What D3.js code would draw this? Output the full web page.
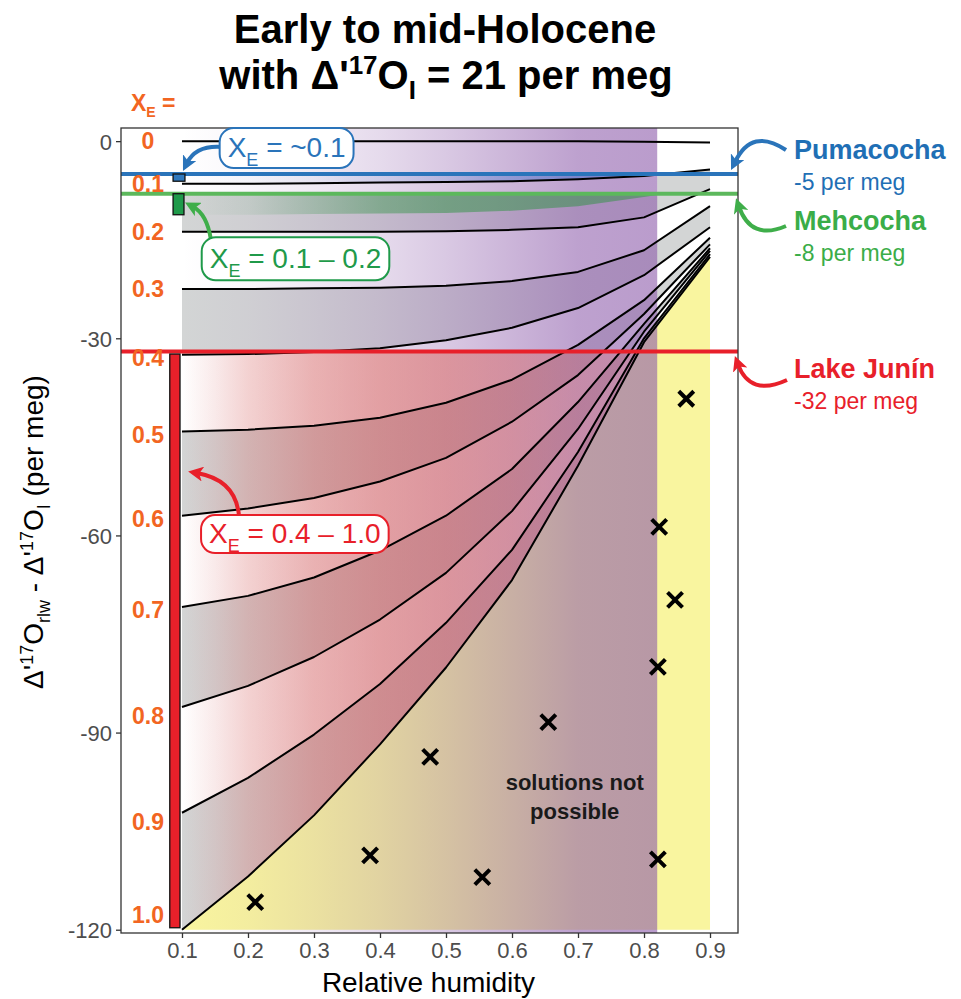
<!DOCTYPE html>
<html>
<head>
<meta charset="utf-8">
<script src="https://cdn.jsdelivr.net/npm/d3@7"></script>
<style>
  body { margin: 0; background: #fff; }
  svg { font-family: "Liberation Sans", Arial, Helvetica, sans-serif; }
</style>
</head>
<body>
<svg id="chart" width="961" height="999"></svg>
<script>
// ---- data -------------------------------------------------------------
// relative humidity steps at which the model curves were evaluated
const rh = [0.1, 0.2, 0.3, 0.4, 0.5, 0.6, 0.7, 0.8, 0.9];

// Δ'17O_rlw − Δ'17O_I (per meg) for each evaporation/inflow ratio X_E
const xe00 = [0, 0, 0, 0, 0, 0, 0, -0.1, -0.2];
const xe01 = [-6.5, -6.5, -6.4, -6.3, -6.2, -6.1, -5.8, -5.3, -4.3];
const xe02 = [-13.8, -13.8, -13.8, -13.8, -13.7, -13.5, -13.1, -11.6, -7.3];
const xe03 = [-22.5, -22.5, -22.4, -22.3, -22.0, -21.3, -19.9, -16.6, -9.9];
const xe04 = [-32.5, -32.4, -32.1, -31.5, -30.3, -28.4, -25.4, -20.4, -13.1];
const xe05 = [-44.2, -43.9, -43.3, -42.1, -39.8, -36.3, -31.0, -24.2, -14.7];
const xe06 = [-57.0, -55.9, -54.3, -51.8, -48.2, -42.7, -35.6, -26.3, -15.7];
const xe07 = [-70.9, -69.2, -66.4, -62.3, -57.0, -49.9, -39.7, -27.8, -16.3];
const xe08 = [-86.1, -82.9, -78.5, -72.8, -65.7, -56.3, -43.8, -29.0, -16.7];
const xe09 = [-102.2, -96.9, -90.3, -82.6, -73.3, -62.2, -47.3, -30.0, -17.2];
const xe10 = [-120.0, -111.9, -102.6, -91.8, -80.1, -66.8, -49.4, -30.6, -17.6];
const xeLabels = ["0", "0.1", "0.2", "0.3", "0.4", "0.5", "0.6", "0.7", "0.8", "0.9", "1.0"];

// lakes and their measured offsets (per meg)
const lakeNames = ["Pumacocha", "Mehcocha", "Lake Junín"];
const lakeValues = [-5, -8, -32];
const lakeTexts = ["-5 per meg", "-8 per meg", "-32 per meg"];

// lower edge of the Mehcocha solution band
const mehRH = [0.1, 0.2, 0.3, 0.4, 0.5, 0.6, 0.7, 0.8, 0.82];
const mehLow = [-11.2, -11.2, -11.1, -11.0, -10.95, -10.6, -9.9, -8.5, -8.2];

// X_E solution ranges (Δ extent of the bars next to the axis)
const pumaRange = [-5, -6.1];
const mehRange = [-8, -11.2];
const juninRange = [-32.4, -119.7];

// plausible RH window
const rhWindow = [0.1, 0.82];

// combinations with no solution
const noSolRH = [0.864, 0.823, 0.847, 0.821, 0.655, 0.476, 0.385, 0.555, 0.821, 0.211];
const noSolD = [-39.2, -58.7, -69.8, -80.0, -88.4, -93.7, -108.7, -112.0, -109.3, -115.8];

const yTicks = [0, -30, -60, -90, -120];
const xTicks = rh;

// ---- scales -----------------------------------------------------------
const P = { l: 121, r: 738, t: 128, b: 933 };
const x = d3.scaleLinear().domain([0.0076, 0.9424]).range([P.l, P.r]);
const y = d3.scaleLinear().domain([-120.5, 2]).range([P.b, P.t]);

const curves = [xe00, xe01, xe02, xe03, xe04, xe05, xe06, xe07, xe08, xe09, xe10];
const interp = (arr, r) => {
  const i = Math.min(rh.length - 2, Math.max(0, Math.floor((r - 0.1) / 0.1 + 1e-9)));
  const t = (r - rh[i]) / (rh[i + 1] - rh[i]);
  return arr[i] + t * (arr[i + 1] - arr[i]);
};

const svg = d3.select("#chart");
const defs = svg.append("defs");

defs.append("clipPath").attr("id", "panel")
  .append("rect").attr("x", P.l).attr("y", P.t).attr("width", P.r - P.l).attr("height", P.b - P.t);

function hGrad(id, color, stops) {
  const g = defs.append("linearGradient").attr("id", id)
    .attr("gradientUnits", "userSpaceOnUse")
    .attr("x1", x(rhWindow[0])).attr("x2", x(rhWindow[1]))
    .attr("y1", 0).attr("y2", 0);
  stops.forEach(([r, a]) => g.append("stop")
    .attr("offset", (r - rhWindow[0]) / (rhWindow[1] - rhWindow[0]))
    .attr("stop-color", color).attr("stop-opacity", a));
}
hGrad("gPurple", "rgb(140,90,170)", [[0.1, 0], [0.2, 0.05], [0.3, 0.13], [0.4, 0.22], [0.5, 0.33], [0.6, 0.45], [0.7, 0.57], [0.82, 0.6]]);
hGrad("gRed", "rgb(222,78,62)", [[0.1, 0], [0.15, 0.1], [0.2, 0.22], [0.3, 0.36], [0.4, 0.42], [0.5, 0.42], [0.6, 0.36], [0.7, 0.26], [0.82, 0.2]]);
hGrad("gGreen", "rgb(45,145,65)", [[0.1, 0], [0.2, 0.08], [0.3, 0.25], [0.4, 0.42], [0.5, 0.5], [0.82, 0.5]]);
hGrad("gBlue", "rgb(40,100,200)", [[0.1, 0], [0.3, 0.05], [0.5, 0.2], [0.6, 0.35], [0.7, 0.45], [0.82, 0.45]]);

defs.append("clipPath").attr("id", "belowJunin")
  .append("rect").attr("x", x(rhWindow[0])).attr("y", y(lakeValues[2]))
  .attr("width", x(rhWindow[1]) - x(rhWindow[0])).attr("height", P.b - y(lakeValues[2]));
defs.append("clipPath").attr("id", "window")
  .append("rect").attr("x", x(rhWindow[0])).attr("y", P.t)
  .attr("width", x(rhWindow[1]) - x(rhWindow[0])).attr("height", P.b - P.t);

function arrowMarker(id, color) {
  defs.append("marker").attr("id", id)
    .attr("viewBox", "0 0 10 10").attr("refX", 4).attr("refY", 5)
    .attr("markerWidth", 15).attr("markerHeight", 15)
    .attr("markerUnits", "userSpaceOnUse").attr("orient", "auto")
    .append("path").attr("d", "M0,0 L10,5 L0,10 L2.5,5 z").attr("fill", color);
}
const cBlue = "#2a74ba", cGreen = "#3fae4a", cRed = "#e8202a", cOrange = "#f26522";
arrowMarker("aBlue", cBlue);
arrowMarker("aGreen", cGreen);
arrowMarker("aRed", cRed);

const plot = svg.append("g").attr("clip-path", "url(#panel)");

const areaBetween = (upper, lower) => d3.area()
  .x((d, i) => x(rh[i])).y0((d, i) => y(lower[i])).y1((d, i) => y(upper[i]))(rh);

// alternating grey bands between successive X_E curves
const grey = "#d3d5d5";
[[1, 2], [3, 4], [5, 6], [7, 8], [9, 10]].forEach(([a, b]) => {
  plot.append("path").attr("d", areaBetween(curves[a], curves[b])).attr("fill", grey);
});
// region with no possible solution
plot.append("path").attr("d", areaBetween(xe10, rh.map(() => -120))).attr("fill", "#f9f59f");

// clear strip between X_E = 0.1 and the Mehcocha level inside the RH window
const stripRH = rh.filter(r => r <= 0.8).concat([rhWindow[1]]);
plot.append("path")
  .attr("d", d3.area().x(r => x(r)).y0(y(lakeValues[1])).y1(r => y(interp(xe01, r)))(stripRH))
  .attr("fill", "#fff");

// plausible-RH window overlay
plot.append("rect")
  .attr("x", x(rhWindow[0])).attr("y", P.t)
  .attr("width", x(rhWindow[1]) - x(rhWindow[0])).attr("height", P.b - P.t)
  .attr("fill", "url(#gPurple)");

// Lake Junín solution space
plot.append("path")
  .attr("clip-path", "url(#belowJunin)")
  .attr("d", d3.area().x((d, i) => x(rh[i])).y0(y(lakeValues[2])).y1((d, i) => y(xe10[i]))(rh))
  .attr("fill", "url(#gRed)");

// Mehcocha solution space
plot.append("path")
  .attr("d", d3.area().x((d, i) => x(mehRH[i])).y0(y(lakeValues[1])).y1((d, i) => y(mehLow[i]))(mehRH))
  .attr("fill", "url(#gGreen)");

// Pumacocha solution space
plot.append("path")
  .attr("clip-path", "url(#window)")
  .attr("d", d3.area().x((d, i) => x(rh[i])).y0(y(lakeValues[0])).y1((d, i) => y(xe01[i]))(rh))
  .attr("fill", "url(#gBlue)");

// X_E curves
const line = d3.line().x((d, i) => x(rh[i])).y(d => y(d));
curves.forEach(c => {
  plot.append("path").attr("d", line(c)).attr("fill", "none")
    .attr("stroke", "#000").attr("stroke-width", 2).attr("stroke-linejoin", "round");
});

// lake levels
const lakeColors = [cBlue, "#5cb85c", cRed];
lakeValues.forEach((v, i) => {
  plot.append("line").attr("x1", P.l).attr("x2", P.r).attr("y1", y(v)).attr("y2", y(v))
    .attr("stroke", lakeColors[i]).attr("stroke-width", 4);
});

// X_E solution bars
const bars = [
  { r: pumaRange, x0: 0.0865, x1: 0.1045, fill: "#2f78bd" },
  { r: mehRange, x0: 0.0865, x1: 0.1030, fill: "#1f9a4a" },
  { r: juninRange, x0: 0.0815, x1: 0.0970, fill: "#e8202a" }
];
bars.forEach(b => {
  plot.append("rect")
    .attr("x", x(b.x0)).attr("width", x(b.x1) - x(b.x0))
    .attr("y", y(b.r[0])).attr("height", y(b.r[1]) - y(b.r[0]))
    .attr("fill", b.fill).attr("stroke", "#111").attr("stroke-width", 1.3);
});

// X_E labels at the start of each curve
xeLabels.forEach((lab, i) => {
  const py = Math.min(y(curves[i][0]) + (i >= 8 ? 9 : i >= 4 ? 3 : 0), y(-117.8));
  svg.append("text").attr("x", x(0.0485)).attr("y", py)
    .attr("text-anchor", "middle").attr("dominant-baseline", "central")
    .attr("font-size", 23).attr("font-weight", "bold").attr("fill", cOrange).text(lab);
});
const xeHead = svg.append("text").attr("x", 131).attr("y", 111)
  .attr("font-size", 23).attr("font-weight", "bold").attr("fill", cOrange);
xeHead.append("tspan").text("X");
xeHead.append("tspan").attr("dy", 6).attr("font-size", 14).text("E");
xeHead.append("tspan").attr("dy", -6).text(" =");

// markers for combinations without a solution
noSolRH.forEach((r, i) => {
  const cx = x(r), cy = y(noSolD[i]), s = 7.5;
  svg.append("path")
    .attr("d", `M${cx - s},${cy - s}L${cx + s},${cy + s}M${cx - s},${cy + s}L${cx + s},${cy - s}`)
    .attr("stroke", "#000").attr("stroke-width", 4);
});
const nsp = svg.append("text").attr("text-anchor", "middle")
  .attr("font-size", 22).attr("font-weight", "bold").attr("fill", "#1a1a1a");
nsp.append("tspan").attr("x", x(0.695)).attr("y", y(-98.8)).text("solutions not");
nsp.append("tspan").attr("x", x(0.695)).attr("dy", 29).text("possible");

// panel border
svg.append("rect").attr("x", P.l).attr("y", P.t).attr("width", P.r - P.l).attr("height", P.b - P.t)
  .attr("fill", "none").attr("stroke", "#333").attr("stroke-width", 1.3);

// axes
const yAxis = svg.append("g").attr("transform", `translate(${P.l},0)`)
  .call(d3.axisLeft(y).tickValues(yTicks).tickSize(5).tickPadding(4).tickFormat(d => String(d)));
const xAxis = svg.append("g").attr("transform", `translate(0,${P.b})`)
  .call(d3.axisBottom(x).tickValues(xTicks).tickSize(5).tickPadding(4).tickFormat(d3.format(".1f")));
[yAxis, xAxis].forEach(a => {
  a.select(".domain").remove();
  a.selectAll(".tick line").attr("stroke", "#333").attr("stroke-width", 1.3);
  a.selectAll(".tick text").attr("fill", "#4d4d4d").attr("font-size", 22)
    .attr("font-family", "Liberation Sans, Arial, sans-serif");
});
yAxis.selectAll(".tick text").attr("dy", "0.36em");

// axis titles
svg.append("text").attr("x", (P.l + P.r) / 2 - 1).attr("y", 992)
  .attr("text-anchor", "middle").attr("font-size", 28).attr("fill", "#000").text("Relative humidity");
const yl = svg.append("text").attr("transform", "translate(43,532) rotate(-90)")
  .attr("text-anchor", "middle").attr("font-size", 28).attr("fill", "#000");
yl.append("tspan").text("Δ'");
yl.append("tspan").attr("dy", -10).attr("font-size", 18).text("17");
yl.append("tspan").attr("dy", 10).text("O");
yl.append("tspan").attr("dy", 7).attr("font-size", 18).text("rlw");
yl.append("tspan").attr("dy", -7).text(" - Δ'");
yl.append("tspan").attr("dy", -10).attr("font-size", 18).text("17");
yl.append("tspan").attr("dy", 10).text("O");
yl.append("tspan").attr("dy", 7).attr("font-size", 18).text("I");
yl.append("tspan").attr("dy", -7).text(" (per meg)");

// title
svg.append("text").attr("x", 445).attr("y", 43).attr("text-anchor", "middle")
  .attr("font-size", 40).attr("font-weight", "bold").text("Early to mid-Holocene");
const t2 = svg.append("text").attr("x", 446).attr("y", 89).attr("text-anchor", "middle")
  .attr("font-size", 40).attr("font-weight", "bold");
t2.append("tspan").text("with Δ'");
t2.append("tspan").attr("dy", -15).attr("font-size", 26).text("17");
t2.append("tspan").attr("dy", 15).text("O");
t2.append("tspan").attr("dy", 10).attr("font-size", 26).text("I");
t2.append("tspan").attr("dy", -10).text(" = 21 per meg");

// lake names on the right
const nameColors = ["#1f6fb5", "#3aad48", "#e8202a"];
const nameY = [159, 230, 378];
lakeNames.forEach((n, i) => {
  svg.append("text").attr("x", 794).attr("y", nameY[i]).attr("font-size", 27)
    .attr("font-weight", "bold").attr("fill", nameColors[i]).text(n);
  svg.append("text").attr("x", 794).attr("y", nameY[i] + 31).attr("font-size", 23)
    .attr("fill", nameColors[i]).text(lakeTexts[i]);
});

// curved pointer arrows
function arrow(d, color, mk) {
  svg.append("path").attr("d", d).attr("fill", "none").attr("stroke", color)
    .attr("stroke-width", 4).attr("marker-end", `url(#${mk})`);
}
arrow(`M786,150 Q752,127 735,${y(lakeValues[0]) - 12}`, cBlue, "aBlue");
arrow(`M786,226 Q751,241 739,${y(lakeValues[1]) + 13}`, cGreen, "aGreen");
arrow(`M787,380 Q750,397 738,${y(lakeValues[2]) + 13}`, cRed, "aRed");

arrow(`M222,147 Q196,145 187,${y(pumaRange[0]) - 11}`, cBlue, "aBlue");
arrow(`M211,240 Q207,214 193,${y(mehRange[0]) - 12 + 25}`, cGreen, "aGreen");
arrow(`M239,516 Q236,480 197,473`, cRed, "aRed");

// callout boxes
function callout(cx, cy, rest, color, h) {
  const g = svg.append("g");
  const rect = g.append("rect");
  const t = g.append("text").attr("x", cx).attr("y", cy + 9).attr("text-anchor", "middle")
    .attr("font-size", 28).attr("fill", color);
  t.append("tspan").text("X");
  t.append("tspan").attr("dy", 9).attr("font-size", 18).text("E");
  t.append("tspan").attr("dy", -9).text(rest);
  const bb = t.node().getBBox();
  const w = bb.width + 16;
  rect.attr("x", cx - w / 2).attr("y", cy - h / 2).attr("width", w).attr("height", h)
    .attr("rx", 14).attr("fill", "#fff").attr("stroke", color).attr("stroke-width", 2);
}
callout(x(0.2585), y(-1.05), " = ~0.1", "#2a74ba", 40);
callout(x(0.272), y(-17.9), " = 0.1 – 0.2", "#1f9a4a", 43);
callout(x(0.271), y(-59.8), " = 0.4 – 1.0", "#e8202a", 38);
</script>
</body>
</html>
